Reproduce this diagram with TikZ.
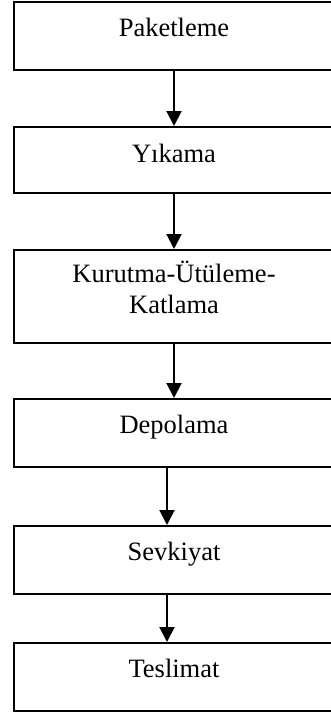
\documentclass[tikz,border=0pt]{standalone}
\usepackage{fontspec}
\setmainfont{Liberation Serif}
\usetikzlibrary{positioning,arrows.meta}
\begin{document}
\begin{tikzpicture}[x=1pt,y=1pt,
  stepbox/.style={draw=black,line width=2pt,minimum width=320pt,minimum height=68pt,inner sep=0pt,
    font=\fontsize{26.5}{31}\selectfont,text height=18pt,text depth=18pt},
  flow/.style={line width=2pt,-{Triangle[width=15pt,length=15pt]}}]
\useasboundingbox (0,0) rectangle (330,-717);
\node[stepbox,text depth=16pt] (pak) at (174,-36) {Paketleme};
\node[stepbox,minimum height=66pt,text depth=14pt,below=55pt of pak] (yik) {Yıkama};
\node[stepbox,minimum height=93pt,align=center,text height=,text depth=,below=55pt of yik] (kur) {Kurutma-Ütüleme-\\Katlama\\[-31pt]\strut\vspace{10pt}};
\node[stepbox,below=54pt of kur] (dep) {Depolama};
\node[stepbox,below=57pt of dep] (sev) {Sevkiyat};
\node[stepbox,below=47pt of sev] (tes) {Teslimat};
\draw[flow] (pak) -- (yik);
\draw[flow] (yik) -- (kur);
\draw[flow] (kur) -- (dep);
\draw[flow] ([xshift=-7pt]dep.south) -- ([xshift=-7pt]sev.north);
\draw[flow] ([xshift=-7pt]sev.south) -- ([xshift=-7pt]tes.north);
\end{tikzpicture}
\end{document}
